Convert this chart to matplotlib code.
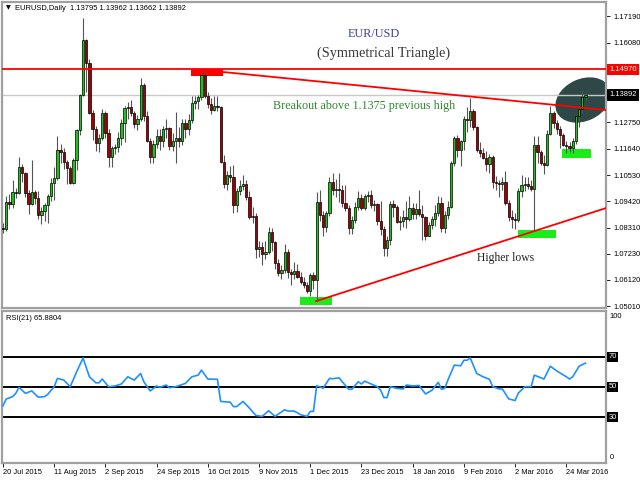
import numpy as np
import matplotlib
matplotlib.use("Agg")
import matplotlib.pyplot as plt
import matplotlib.transforms as mtransforms
from matplotlib.patches import Rectangle, Ellipse

# EURUSD daily bars, 20 Jul 2015 .. 1 Apr 2016
opens = [1.0832, 1.0827, 1.0938, 1.0930, 1.0982, 1.0978, 1.1085, 1.1060, 1.0978, 1.0932,
         1.0982, 1.0955, 1.0885, 1.0902, 1.0925, 1.0965, 1.1018, 1.1042, 1.1158, 1.1148,
         1.1107, 1.1082, 1.1020, 1.1118, 1.1240, 1.1388, 1.1620, 1.1523, 1.1315, 1.1246,
         1.1187, 1.1210, 1.1313, 1.1229, 1.1128, 1.1168, 1.1172, 1.1210, 1.1272, 1.1335,
         1.1340, 1.1315, 1.1268, 1.1290, 1.1432, 1.1300, 1.1195, 1.1128, 1.1185, 1.1215,
         1.1195, 1.1245, 1.1250, 1.1175, 1.1195, 1.1210, 1.1195, 1.1272, 1.1245, 1.1285,
         1.1355, 1.1362, 1.1380, 1.1472, 1.1385, 1.1350, 1.1325, 1.1345, 1.1340, 1.1108,
         1.1015, 1.1055, 1.1045, 1.0925, 1.0985, 1.1005, 1.1015, 1.0960, 1.0877, 1.0882,
         1.0740, 1.0752, 1.0722, 1.0730, 1.0813, 1.0770, 1.0685, 1.0642, 1.0655, 1.0730,
         1.0645, 1.0635, 1.0650, 1.0625, 1.0605, 1.0592, 1.0565, 1.0632, 1.0612, 1.0940,
         1.0885, 1.0835, 1.0895, 1.1025, 1.0990, 1.0995, 1.0990, 1.0935, 1.0915, 1.0830,
         1.0865, 1.0920, 1.0955, 1.0915, 1.0965, 1.0970, 1.0925, 1.0930, 1.0858, 1.0828,
         1.0748, 1.0782, 1.0930, 1.0920, 1.0855, 1.0860, 1.0875, 1.0870, 1.0915, 1.0890,
         1.0910, 1.0890, 1.0875, 1.0795, 1.0845, 1.0870, 1.0895, 1.0935, 1.0830, 1.0885,
         1.0920, 1.1105, 1.1210, 1.1160, 1.1195, 1.1290, 1.1285, 1.1320, 1.1255, 1.1160,
         1.1145, 1.1125, 1.1100, 1.1130, 1.1025, 1.1020, 1.1015, 1.1025, 1.0935, 1.0875,
         1.0870, 1.0865, 1.0985, 1.1010, 1.1015, 1.1005, 1.0995, 1.1180, 1.1150, 1.1105,
         1.1095, 1.1225, 1.1315, 1.1270, 1.1245, 1.1220, 1.1180, 1.1175, 1.1165, 1.1195,
         1.1300, 1.1330, 1.13795]
highs = [1.0850, 1.0965, 1.0975, 1.1030, 1.0998, 1.1130, 1.1100, 1.1065, 1.0990, 1.1114,
         1.0990, 1.0985, 1.0920, 1.0935, 1.0975, 1.1040, 1.1085, 1.1215, 1.1185, 1.1165,
         1.1118, 1.1090, 1.1125, 1.1245, 1.1392, 1.1714, 1.1625, 1.1540, 1.1325, 1.1258,
         1.1225, 1.1332, 1.1322, 1.1245, 1.1175, 1.1185, 1.1235, 1.1290, 1.1345, 1.1360,
         1.1367, 1.1320, 1.1305, 1.1460, 1.1440, 1.1320, 1.1210, 1.1200, 1.1245, 1.1247,
         1.1260, 1.1290, 1.1255, 1.1230, 1.1318, 1.1255, 1.1290, 1.1290, 1.1310, 1.1385,
         1.1385, 1.1390, 1.1480, 1.1495, 1.1400, 1.1375, 1.1385, 1.1385, 1.1345, 1.1135,
         1.1068, 1.1090, 1.1095, 1.1000, 1.1030, 1.1055, 1.1030, 1.0985, 1.0920, 1.0895,
         1.0775, 1.0770, 1.0775, 1.0835, 1.0830, 1.0775, 1.0700, 1.0675, 1.0762, 1.0740,
         1.0660, 1.0688, 1.0680, 1.0645, 1.0625, 1.0605, 1.0640, 1.0645, 1.0982, 1.0990,
         1.0900, 1.0900, 1.1045, 1.1060, 1.1035, 1.1060, 1.1010, 1.1010, 1.0925, 1.0880,
         1.0940, 1.0985, 1.0975, 1.0975, 1.0985, 1.0990, 1.0950, 1.0935, 1.0945, 1.0840,
         1.0798, 1.0945, 1.0950, 1.0925, 1.0880, 1.0905, 1.0945, 1.0965, 1.0935, 1.0935,
         1.0990, 1.0925, 1.0880, 1.0855, 1.0880, 1.0925, 1.0965, 1.0960, 1.0900, 1.0945,
         1.1110, 1.1215, 1.1220, 1.1200, 1.1300, 1.1340, 1.1376, 1.1330, 1.1260, 1.1190,
         1.1168, 1.1155, 1.1140, 1.1135, 1.1050, 1.1030, 1.1045, 1.1070, 1.0950, 1.0905,
         1.0895, 1.1000, 1.1055, 1.1045, 1.1045, 1.1030, 1.1218, 1.1215, 1.1160, 1.1135,
         1.1240, 1.1342, 1.1320, 1.1285, 1.1260, 1.1230, 1.1195, 1.1190, 1.1210, 1.1305,
         1.1342, 1.1412, 1.13962]
lows = [1.0808, 1.0818, 1.0910, 1.0915, 1.0955, 1.0975, 1.1023, 1.0960, 1.0888, 1.0925,
        1.0932, 1.0868, 1.0848, 1.0858, 1.0852, 1.0942, 1.0950, 1.1030, 1.1105, 1.1080,
        1.1017, 1.1017, 1.1015, 1.1075, 1.1220, 1.1385, 1.1400, 1.1310, 1.1200, 1.1155,
        1.1150, 1.1200, 1.1210, 1.1087, 1.1085, 1.1140, 1.1150, 1.1180, 1.1190, 1.1290,
        1.1300, 1.1250, 1.1240, 1.1280, 1.1280, 1.1190, 1.1105, 1.1105, 1.1165, 1.1160,
        1.1170, 1.1210, 1.1160, 1.1155, 1.1105, 1.1170, 1.1180, 1.1210, 1.1220, 1.1270,
        1.1330, 1.1330, 1.1370, 1.1375, 1.1335, 1.1310, 1.1320, 1.1320, 1.1105, 1.1000,
        1.0990, 1.1025, 1.0895, 1.0898, 1.0970, 1.0990, 1.0950, 1.0870, 1.0850, 1.0705,
        1.0710, 1.0675, 1.0700, 1.0720, 1.0735, 1.0660, 1.0630, 1.0615, 1.0640, 1.0620,
        1.0590, 1.0615, 1.0620, 1.0595, 1.0580, 1.0558, 1.0545, 1.0575, 1.0524, 1.0860,
        1.0795, 1.0815, 1.0880, 1.0970, 1.0960, 1.0940, 1.0920, 1.0900, 1.0805, 1.0805,
        1.0850, 1.0905, 1.0905, 1.0905, 1.0940, 1.0915, 1.0900, 1.0845, 1.0800, 1.0711,
        1.0711, 1.0760, 1.0875, 1.0850, 1.0820, 1.0835, 1.0830, 1.0860, 1.0870, 1.0870,
        1.0880, 1.0780, 1.0780, 1.0795, 1.0825, 1.0840, 1.0880, 1.0815, 1.0810, 1.0870,
        1.0915, 1.1090, 1.1130, 1.1090, 1.1160, 1.1235, 1.1255, 1.1240, 1.1150, 1.1130,
        1.1120, 1.1070, 1.1060, 1.1000, 1.0990, 1.0960, 1.0990, 1.0925, 1.0860, 1.0830,
        1.0827, 1.0855, 1.0960, 1.0985, 1.0995, 1.0985, 1.0822, 1.1105, 1.1095, 1.1058,
        1.1090, 1.1220, 1.1250, 1.1225, 1.1165, 1.1175, 1.1145, 1.1150, 1.1145, 1.1185,
        1.1255, 1.1315, 1.13662]
closes = [1.0827, 1.0938, 1.0930, 1.0982, 1.0978, 1.1085, 1.1060, 1.0978, 1.0932, 1.0982,
          1.0955, 1.0885, 1.0902, 1.0925, 1.0965, 1.1018, 1.1042, 1.1158, 1.1148, 1.1107,
          1.1082, 1.1020, 1.1118, 1.1240, 1.1388, 1.1620, 1.1523, 1.1315, 1.1246, 1.1187,
          1.1210, 1.1313, 1.1229, 1.1128, 1.1168, 1.1172, 1.1210, 1.1272, 1.1335, 1.1340,
          1.1315, 1.1268, 1.1290, 1.1432, 1.1300, 1.1195, 1.1128, 1.1185, 1.1215, 1.1195,
          1.1245, 1.1250, 1.1175, 1.1195, 1.1210, 1.1195, 1.1272, 1.1245, 1.1285, 1.1355,
          1.1362, 1.1380, 1.1472, 1.1385, 1.1350, 1.1325, 1.1345, 1.1340, 1.1108, 1.1015,
          1.1055, 1.1045, 1.0925, 1.0985, 1.1005, 1.1015, 1.0960, 1.0877, 1.0882, 1.0740,
          1.0752, 1.0722, 1.0730, 1.0813, 1.0770, 1.0685, 1.0642, 1.0655, 1.0730, 1.0645,
          1.0635, 1.0650, 1.0625, 1.0605, 1.0592, 1.0565, 1.0632, 1.0612, 1.0940, 1.0885,
          1.0835, 1.0895, 1.1025, 1.0990, 1.0995, 1.0990, 1.0935, 1.0915, 1.0830, 1.0865,
          1.0920, 1.0955, 1.0915, 1.0965, 1.0970, 1.0925, 1.0930, 1.0858, 1.0828, 1.0748,
          1.0782, 1.0930, 1.0920, 1.0855, 1.0860, 1.0875, 1.0870, 1.0915, 1.0890, 1.0910,
          1.0890, 1.0875, 1.0795, 1.0845, 1.0870, 1.0895, 1.0935, 1.0830, 1.0885, 1.0920,
          1.1105, 1.1210, 1.1160, 1.1195, 1.1290, 1.1285, 1.1320, 1.1255, 1.1160, 1.1145,
          1.1125, 1.1100, 1.1130, 1.1025, 1.1020, 1.1015, 1.1025, 1.0935, 1.0875, 1.0870,
          1.0865, 1.0985, 1.1010, 1.1015, 1.1005, 1.0995, 1.1180, 1.1150, 1.1105, 1.1095,
          1.1225, 1.1315, 1.1270, 1.1245, 1.1220, 1.1180, 1.1175, 1.1165, 1.1195, 1.1300,
          1.1330, 1.1380, 1.13892]

date_bars = [0, 16, 32, 48, 64, 80, 96, 112, 128, 144, 160, 176]
date_labels = ['20 Jul 2015', '11 Aug 2015', '2 Sep 2015', '24 Sep 2015', '16 Oct 2015',
               '9 Nov 2015', '1 Dec 2015', '23 Dec 2015', '18 Jan 2016', '9 Feb 2016',
               '2 Mar 2016', '24 Mar 2016']
price_ticks = [1.1719, 1.1608, 1.1275, 1.1164, 1.1053, 1.0942, 1.0831, 1.0723, 1.0612, 1.0501]

# RSI(21) line, vertices
rsi_bars = [0, 1, 3, 4, 5, 7, 9, 11, 13, 14, 16, 17, 19, 21, 23, 25, 27, 29, 30, 31,
            33, 35, 37, 39, 41, 43, 44, 46, 48, 49, 51, 52, 54, 57, 59, 61, 62, 64, 67, 68,
            71, 72, 73, 75, 77, 79, 81, 83, 85, 88, 89, 91, 93, 95, 96, 97, 98, 99, 100, 102,
            103, 105, 106, 108, 109, 111, 112, 113, 115, 117, 118, 119, 120, 121, 123, 125, 126, 128, 130, 132,
            134, 136, 137, 138, 139, 141, 143, 144, 145, 146, 148, 150, 152, 153, 155, 156, 158, 160, 161, 163,
            165, 166, 169, 171, 173, 176, 177, 178, 180, 182]
rsi_values = [37.5, 42, 43.6, 45.8, 49.8, 45.8, 47.4, 43.2, 43.6, 45.2,
              50.2, 55.7, 54.6, 50.2, 60, 69.3, 56.8, 52.8, 52.8, 55.3,
              50.2, 50.7, 52, 56.8, 54.6, 59, 53.5, 47.4, 50.7, 49.8,
              51.3, 49.5, 50.2, 52.4, 56.8, 57.9, 61.2, 55.3, 55.1, 40.4,
              39.9, 37, 37, 40.4, 36, 31.1, 30.5, 34.2, 30.5, 34.9,
              34, 34, 31.6, 30.5, 33.8, 33.8, 50.7, 50.2, 49.1, 55.7,
              55.5, 56.1, 53.5, 48.5, 48.5, 53.5, 52, 53.9, 52, 50.2,
              47.8, 43, 43, 50.2, 49.1, 48.7, 51.3, 50.7, 51, 45.4,
              47.8, 53.1, 48.5, 49.1, 54.6, 64.5, 64.1, 67.8, 67.8, 69.3,
              59, 56.8, 55.1, 50.2, 48.7, 48.7, 42.1, 41, 45.9, 50.2,
              50.2, 57.9, 55.3, 63.8, 60.7, 56.8, 55.3, 56.8, 63.8, 65.88]
rsi_levels = [70, 50, 30]

# drawn objects on the price pane
resistance = 1.1497
bid = 1.13892
upper_x, upper_y = [68.75, 188.4], [1.14858, 1.13261]
lower_x, lower_y = [97.8, 188.4], [1.0523, 1.0914]
red_box = (58.75, 68.75, 1.1468, 1.1497)
green_boxes = [(92.8, 102.8, 1.0507, 1.0540),
               (160.9, 172.8, 1.0788, 1.0822),
               (174.7, 183.75, 1.1124, 1.1162)]
ellipse_center = (181.25, 1.13682)

SANS = 'Liberation Sans'
SERIF = 'Liberation Serif'
FRAME = '#a0a0a0'

fig = plt.figure(figsize=(6.4, 4.8), dpi=100)
fig.patch.set_facecolor('white')
ax = fig.add_axes([2 / 640, 1 - 308 / 480, 604 / 640, 306 / 480])
ax_r = fig.add_axes([2 / 640, 1 - 463 / 480, 604 / 640, 152 / 480])

x = np.arange(len(closes))
o, h, l, c = map(np.array, (opens, highs, lows, closes))
up = c >= o
body = np.maximum(np.abs(c - o), 0.00012)

# candles
ax.vlines(x, l, h, color='#555555', lw=0.8, zorder=3)
ax.bar(x[up], body[up], bottom=o[up], width=0.7, color='#1fc01f',
       edgecolor='black', lw=0.5, zorder=4)
ax.bar(x[~up], body[~up], bottom=c[~up], width=0.7, color='#a00000',
       edgecolor='black', lw=0.5, zorder=4)

# annotations
ax.add_patch(Ellipse((0, 0), 0.58, 0.42, angle=25,
                     transform=fig.dpi_scale_trans + mtransforms.ScaledTranslation(
                         ellipse_center[0], ellipse_center[1], ax.transData),
                     fc='#2e4747', ec='none', zorder=1))
ax.add_patch(Rectangle((red_box[0], red_box[2]), red_box[1] - red_box[0],
                       red_box[3] - red_box[2], fc='#ff0000', ec='none', zorder=2))
for x0, x1, y0, y1 in green_boxes:
    ax.add_patch(Rectangle((x0, y0), x1 - x0, y1 - y0, fc='#19ec19', ec='none', zorder=2))
ax.axhline(bid, color='#c8c8c8', lw=1.0, zorder=2)
ax.axhline(resistance, color='#ff0000', lw=1.3, zorder=5)
ax.plot(upper_x, upper_y, color='#ff0000', lw=1.3, zorder=5)
ax.plot(lower_x, lower_y, color='#ff0000', lw=1.3, zorder=5)

ax.text(115.9, 1.1645, 'EUR/USD', family=SERIF, fontsize=8.8, color='#3f3fa6',
        ha='center', va='center')
ax.text(118.75, 1.15657, '(Symmetrical Triangle)', family=SERIF, fontsize=10.3,
        color='#3a3a3a', ha='center', va='center')
ax.text(112.8, 1.13429, 'Breakout above 1.1375 previous high', family=SERIF,
        fontsize=8.7, color='#2f8a2f', ha='center', va='center')
ax.text(156.9, 1.07043, 'Higher lows', family=SERIF, fontsize=8.4, color='#222222',
        ha='center', va='center')

ax.set_xlim(-0.31, 188.4)
ax.set_ylim(1.04942, 1.17799)
ax.yaxis.tick_right()
ax.set_yticks(price_ticks)
ax.set_yticklabels([f'{v:.5f}' for v in price_ticks], family=SANS, fontsize=5.4)
ax.tick_params(axis='y', length=3, width=0.6, pad=2)
ax.tick_params(axis='x', bottom=False, labelbottom=False)

yt = mtransforms.blended_transform_factory(ax.transAxes, ax.transData)
ax.text(1.006, resistance, f'{resistance:.5f}', transform=yt, ha='left', va='center',
        family=SANS, fontsize=5.4, color='white', clip_on=False,
        bbox=dict(boxstyle='square,pad=0.3', fc='#ff0000', ec='none'))
ax.text(1.006, bid, f'{bid:.5f}', transform=yt, ha='left', va='center',
        family=SANS, fontsize=5.4, color='white', clip_on=False,
        bbox=dict(boxstyle='square,pad=0.3', fc='black', ec='none'))

# RSI pane
ax_r.plot(rsi_bars, rsi_values, color='#1e90ff', lw=1.2, zorder=3)
for lv in rsi_levels:
    ax_r.axhline(lv, color='black', lw=1.4, zorder=2)
ax_r.set_xlim(-0.31, 188.4)
ax_r.set_ylim(-0.5, 100.5)
ax_r.set_yticks([])
ax_r.set_xticks(date_bars)
ax_r.set_xticklabels(date_labels, family=SANS, fontsize=5.4, ha='left')
ax_r.tick_params(axis='x', length=3, width=0.6, pad=1.5)

rt = mtransforms.blended_transform_factory(ax_r.transAxes, ax_r.transData)
for lv in rsi_levels:
    ax_r.text(1.004, lv, str(lv), transform=rt, ha='left', va='center', family=SANS,
              fontsize=5.4, color='white', clip_on=False,
              bbox=dict(boxstyle='square,pad=0.2', fc='black', ec='none'))
ax_r.text(1.006, 97, '100', transform=rt, ha='left', va='center', family=SANS,
          fontsize=5.4, clip_on=False)
ax_r.text(1.006, 3, '0', transform=rt, ha='left', va='center', family=SANS,
          fontsize=5.4, clip_on=False)

for a in (ax, ax_r):
    a.set_facecolor('white')
    for s in a.spines.values():
        s.set_color(FRAME)
        s.set_linewidth(1.6)

# header texts
fig.text(6 / 640, 1 - 8 / 480, '\u25bc', fontsize=4.5, va='center', ha='left')
fig.text(15 / 640, 1 - 8 / 480, 'EURUSD,Daily  1.13795 1.13962 1.13662 1.13892',
         family=SANS, fontsize=5.4, va='center', ha='left')
fig.text(6 / 640, 1 - 318 / 480, 'RSI(21) 65.8804', family=SANS, fontsize=5.4,
         va='center', ha='left')

fig.savefig('out.png', dpi=100)
